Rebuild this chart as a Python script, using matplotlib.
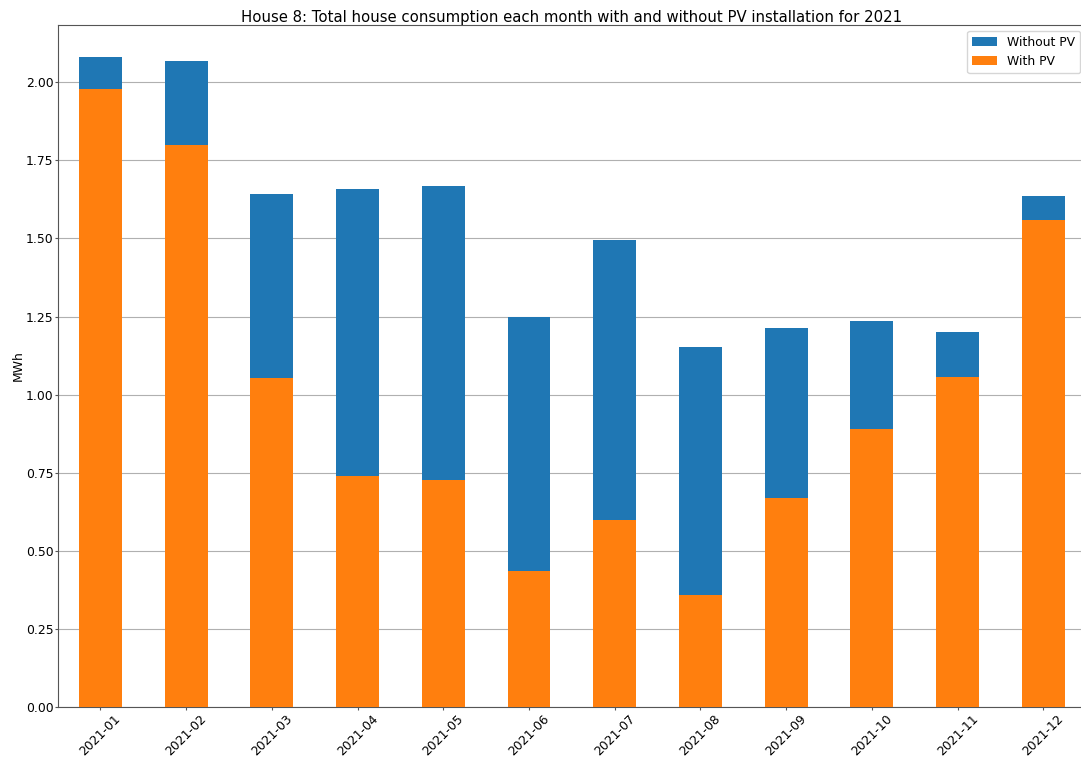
import matplotlib
matplotlib.use("Agg")
import matplotlib.pyplot as plt
import numpy as np

months = ["2021-01", "2021-02", "2021-03", "2021-04", "2021-05", "2021-06",
          "2021-07", "2021-08", "2021-09", "2021-10", "2021-11", "2021-12"]
without_pv = [2.080, 2.067, 1.641, 1.657, 1.667, 1.247,
              1.494, 1.154, 1.212, 1.237, 1.202, 1.635]
with_pv = [1.978, 1.798, 1.054, 0.740, 0.728, 0.436,
           0.599, 0.359, 0.670, 0.891, 1.058, 1.558]

plt.rcParams["font.size"] = 8.9

fig = plt.figure(figsize=(10.81, 7.58), dpi=100)
# the right edge of the axes runs slightly past the figure, as in the reference
ax = fig.add_axes([0.0532, 0.0673, 0.9516, 0.9])

x = np.arange(len(months))
ax.bar(x, without_pv, width=0.5, color="#1f77b4", label="Without PV", zorder=2)
ax.bar(x, with_pv, width=0.5, color="#ff7f0e", label="With PV", zorder=3)

ax.set_xlim(-0.5, len(months) - 0.5)
ax.set_ylim(0, 2.184)
ax.set_yticks(np.arange(0, 2.01, 0.25))
ax.set_xticks(x)
ax.set_xticklabels(months, rotation=45)
ax.tick_params(length=2, pad=2, color="#555555")
ax.tick_params(axis="y", pad=1)
for s in ax.spines.values():
    s.set_color("#555555")
ax.set_ylabel("MWh", labelpad=1)
ax.set_title("House 8: Total house consumption each month with and without PV installation for 2021", pad=2)
ax.yaxis.grid(True, color="#b0b0b0", zorder=0)
ax.legend(loc="upper right")

fig.savefig("out.png", dpi=100)
